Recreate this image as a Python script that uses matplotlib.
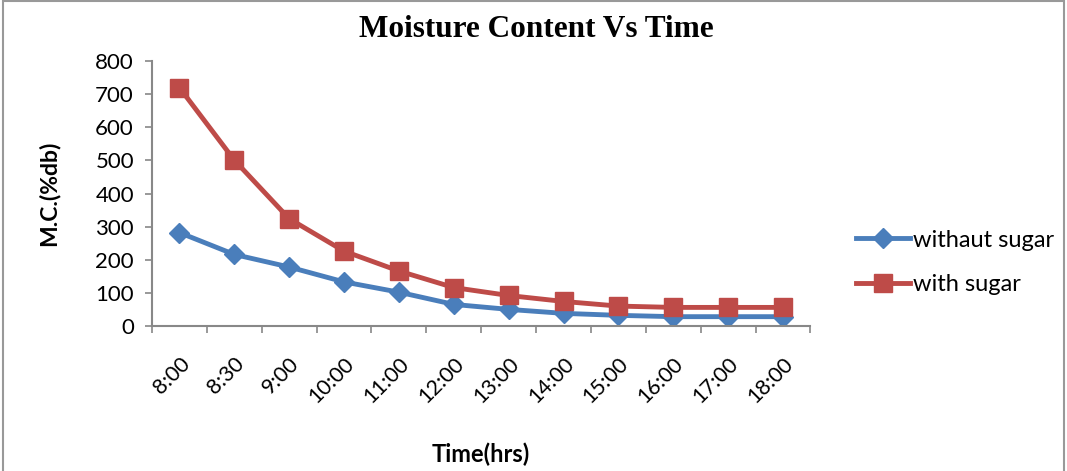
import numpy as np
import matplotlib.pyplot as plt
from matplotlib.patches import Rectangle

times = ["8:00", "8:30", "9:00", "10:00", "11:00", "12:00",
         "13:00", "14:00", "15:00", "16:00", "17:00", "18:00"]
without_sugar = [282, 216, 178, 133, 102, 65, 50, 38, 32, 28, 28, 28]
with_sugar = [720, 501, 324, 226, 166, 116, 92, 74, 60, 56, 56, 56]

blue = '#4A7EBB'
red = '#BE4B48'
label_font = ['Lato', 'DejaVu Sans']

fig = plt.figure(figsize=(10.67, 4.71), dpi=100)
ax = fig.add_axes([0.1425, 0.308, 0.617, 0.562])

x = np.arange(len(times))
ax.plot(x, without_sugar, color=blue, lw=3.5, marker='D', ms=10,
        label='withaut sugar', zorder=2)
ax.plot(x, with_sugar, color=red, lw=3.5, marker='s', ms=13,
        label='with sugar', zorder=3)

ax.set_xlim(-0.5, len(times) - 0.5)
ax.set_ylim(0, 800)
ax.set_yticks(range(0, 801, 100))
ax.set_xticks(x)
ax.set_xticklabels(times, rotation=45, ha='right', va='top',
                   rotation_mode='anchor', family=label_font, fontsize=15.5)
ax.set_xticks(np.arange(-0.5, len(times)), minor=True)
ax.tick_params(axis='x', which='major', length=0, pad=20)
ax.tick_params(axis='x', which='minor', length=5, color='#888888', width=1.2)
ax.tick_params(axis='y', length=5, color='#888888', width=1.2, labelsize=16,
               pad=8)
for lab in ax.get_yticklabels():
    lab.set_family(label_font)

for s in ['top', 'right']:
    ax.spines[s].set_visible(False)
for s in ['left', 'bottom']:
    ax.spines[s].set_color('#888888')
    ax.spines[s].set_linewidth(1.5)

ax.set_ylabel("M.C.(%db)", family=label_font, fontweight='bold',
              fontsize=16.5, labelpad=26)
ax.set_xlabel("Time(hrs)", family=label_font, fontweight='bold',
              fontsize=17, labelpad=26)

fig.text(0.503, 0.937, "Moisture Content Vs Time", ha='center', va='center',
         family=['Liberation Serif', 'DejaVu Serif'], fontweight='bold',
         fontsize=22.5)

ax.legend(loc='center left', bbox_to_anchor=(1.037, 0.24), frameon=False,
          prop={'family': label_font, 'size': 17}, handlelength=2.3,
          handletextpad=0.1, labelspacing=1.0)

fig.patches.append(Rectangle((0.003, -0.01), 0.994, 1.007,
                             transform=fig.transFigure, fill=False,
                             edgecolor='#999999', lw=1.5))

fig.savefig("out.png", dpi=100)
